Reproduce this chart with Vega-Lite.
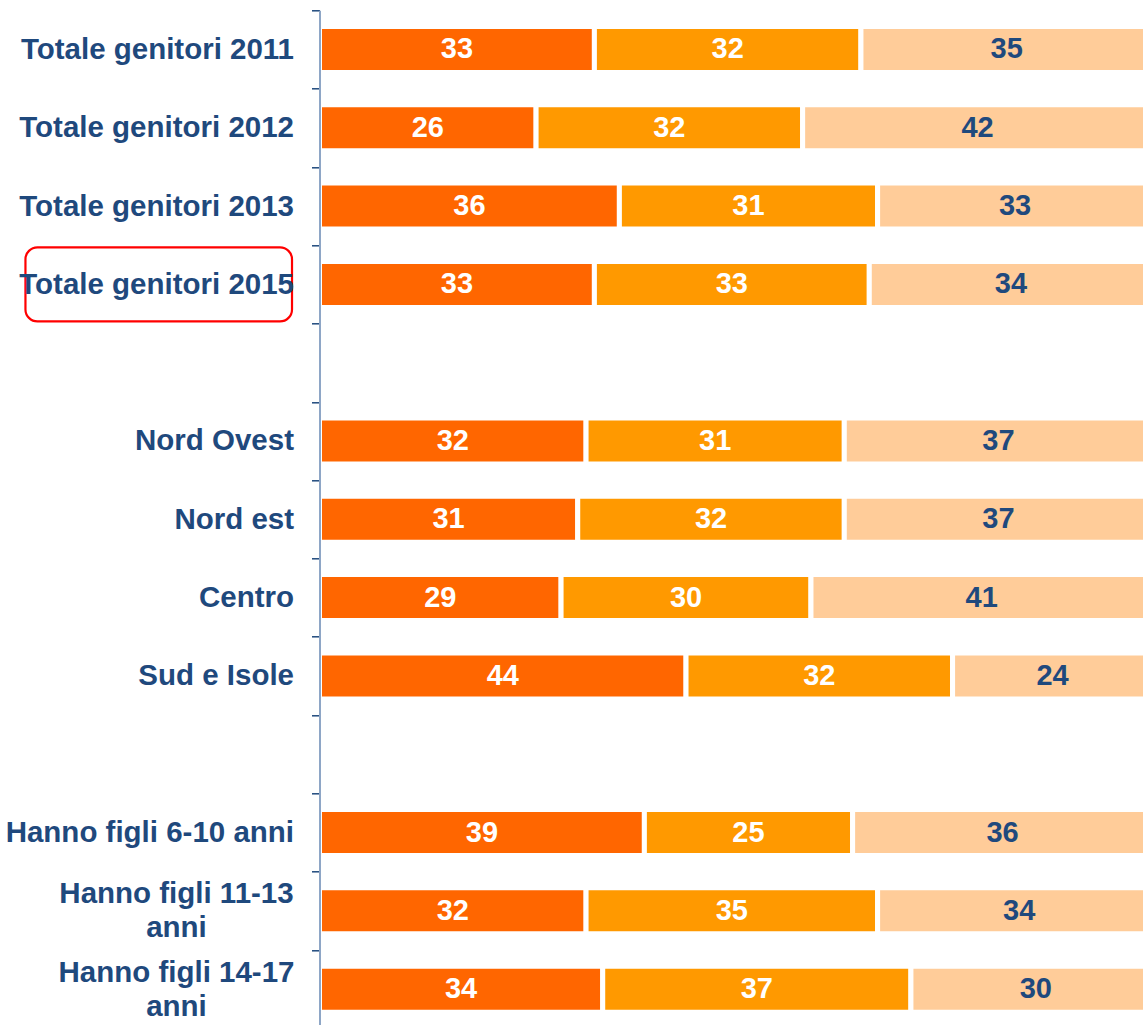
{
  "$schema": "https://vega.github.io/schema/vega-lite/v6.json",
  "autosize": "none",
  "width": 824,
  "height": 1015,
  "padding": {"left": 319.5, "top": 10.3, "right": 0, "bottom": 0},
  "background": "white",
  "config": {"view": {"stroke": null}, "font": "Liberation Sans"},
  "data": {
    "values": [
      {"cat": "Totale genitori 2011", "serie": "1", "v": 33},
      {"cat": "Totale genitori 2011", "serie": "2", "v": 32},
      {"cat": "Totale genitori 2011", "serie": "3", "v": 35},
      {"cat": "Totale genitori 2012", "serie": "1", "v": 26},
      {"cat": "Totale genitori 2012", "serie": "2", "v": 32},
      {"cat": "Totale genitori 2012", "serie": "3", "v": 42},
      {"cat": "Totale genitori 2013", "serie": "1", "v": 36},
      {"cat": "Totale genitori 2013", "serie": "2", "v": 31},
      {"cat": "Totale genitori 2013", "serie": "3", "v": 33},
      {"cat": "Totale genitori 2015", "serie": "1", "v": 33},
      {"cat": "Totale genitori 2015", "serie": "2", "v": 33},
      {"cat": "Totale genitori 2015", "serie": "3", "v": 34},
      {"cat": "Nord Ovest", "serie": "1", "v": 32},
      {"cat": "Nord Ovest", "serie": "2", "v": 31},
      {"cat": "Nord Ovest", "serie": "3", "v": 37},
      {"cat": "Nord est", "serie": "1", "v": 31},
      {"cat": "Nord est", "serie": "2", "v": 32},
      {"cat": "Nord est", "serie": "3", "v": 37},
      {"cat": "Centro", "serie": "1", "v": 29},
      {"cat": "Centro", "serie": "2", "v": 30},
      {"cat": "Centro", "serie": "3", "v": 41},
      {"cat": "Sud e Isole", "serie": "1", "v": 44},
      {"cat": "Sud e Isole", "serie": "2", "v": 32},
      {"cat": "Sud e Isole", "serie": "3", "v": 24},
      {"cat": "Hanno figli 6-10 anni", "serie": "1", "v": 39},
      {"cat": "Hanno figli 6-10 anni", "serie": "2", "v": 25},
      {"cat": "Hanno figli 6-10 anni", "serie": "3", "v": 36},
      {"cat": "Hanno figli 11-13 anni", "serie": "1", "v": 32},
      {"cat": "Hanno figli 11-13 anni", "serie": "2", "v": 35},
      {"cat": "Hanno figli 11-13 anni", "serie": "3", "v": 34},
      {"cat": "Hanno figli 14-17 anni", "serie": "1", "v": 34},
      {"cat": "Hanno figli 14-17 anni", "serie": "2", "v": 37},
      {"cat": "Hanno figli 14-17 anni", "serie": "3", "v": 30}
    ]
  },
  "transform": [
    {"stack": "v", "groupby": ["cat"], "sort": [{"field": "serie"}], "as": ["v0", "v1"]},
    {"calculate": "(datum.v0 + datum.v1) / 2", "as": "mid"}
  ],
  "encoding": {
    "y": {
      "field": "cat",
      "type": "nominal",
      "title": null,
      "scale": {
        "domain": ["Totale genitori 2011", "Totale genitori 2012", "Totale genitori 2013", "Totale genitori 2015", "gap1", "Nord Ovest", "Nord est", "Centro", "Sud e Isole", "gap2", "Hanno figli 6-10 anni", "Hanno figli 11-13 anni", "Hanno figli 14-17 anni"],
        "range": [0, 1018],
        "paddingInner": 0,
        "paddingOuter": 0
      },
      "axis": {
        "zindex": 1,
        "tickBand": "extent",
        "tickSize": 8,
        "tickColor": "#1F497D",
        "tickWidth": 1.5,
        "domainColor": "#8EA6C6",
        "domainWidth": 2,
        "labelFont": "Liberation Sans",
        "labelFontWeight": "bold",
        "labelFontSize": 29.5,
        "labelColor": "#1F497D",
        "labelLimit": 400,
        "labelLineHeight": 34,
        "labelBaseline": "middle",
        "labelAlign": {"condition": {"test": "datum.value == 'Hanno figli 11-13 anni' || datum.value == 'Hanno figli 14-17 anni'", "value": "center"}, "value": "right"},
        "labelPadding": {"condition": {"test": "datum.value == 'Hanno figli 11-13 anni' || datum.value == 'Hanno figli 14-17 anni'", "value": 135.5}, "value": 18},
        "labelOffset": {"condition": {"test": "datum.value == 'Hanno figli 11-13 anni' || datum.value == 'Hanno figli 14-17 anni'", "value": -17}, "value": 0},
        "labelExpr": "datum.value == 'Hanno figli 11-13 anni' ? ['Hanno figli 11-13', 'anni'] : datum.value == 'Hanno figli 14-17 anni' ? ['Hanno figli 14-17', 'anni'] : (datum.value == 'gap1' || datum.value == 'gap2') ? '' : datum.label"
      }
    }
  },
  "layer": [
    {
      "mark": {"type": "bar", "stroke": "white", "strokeWidth": 5, "height": 46},
      "encoding": {
        "x": {"field": "v0", "type": "quantitative", "scale": {"domain": [0, 100], "range": [0, 833], "nice": false}, "axis": null},
        "x2": {"field": "v1"},
        "color": {"field": "serie", "type": "nominal", "scale": {"domain": ["1", "2", "3"], "range": ["#FF6600", "#FF9900", "#FFCC99"]}, "legend": null}
      }
    },
    {
      "mark": {"type": "text", "font": "Liberation Sans", "fontWeight": "bold", "fontSize": 29, "baseline": "middle", "align": "center"},
      "encoding": {
        "x": {"field": "mid", "type": "quantitative"},
        "text": {"field": "v", "type": "quantitative"},
        "color": {"condition": {"test": "datum.serie == '3'", "value": "#1F497D"}, "value": "white"}
      }
    },
    {
      "data": {"values": [{"cat": "Totale genitori 2015"}]},
      "transform": [],
      "mark": {"type": "bar", "fill": null, "fillOpacity": 0, "stroke": "#FF0000", "strokeWidth": 2.2, "cornerRadius": 12, "height": 74},
      "encoding": {
        "x": {"datum": -35.3, "type": "quantitative"},
        "x2": {"datum": -3.3}
      }
    }
  ]
}
